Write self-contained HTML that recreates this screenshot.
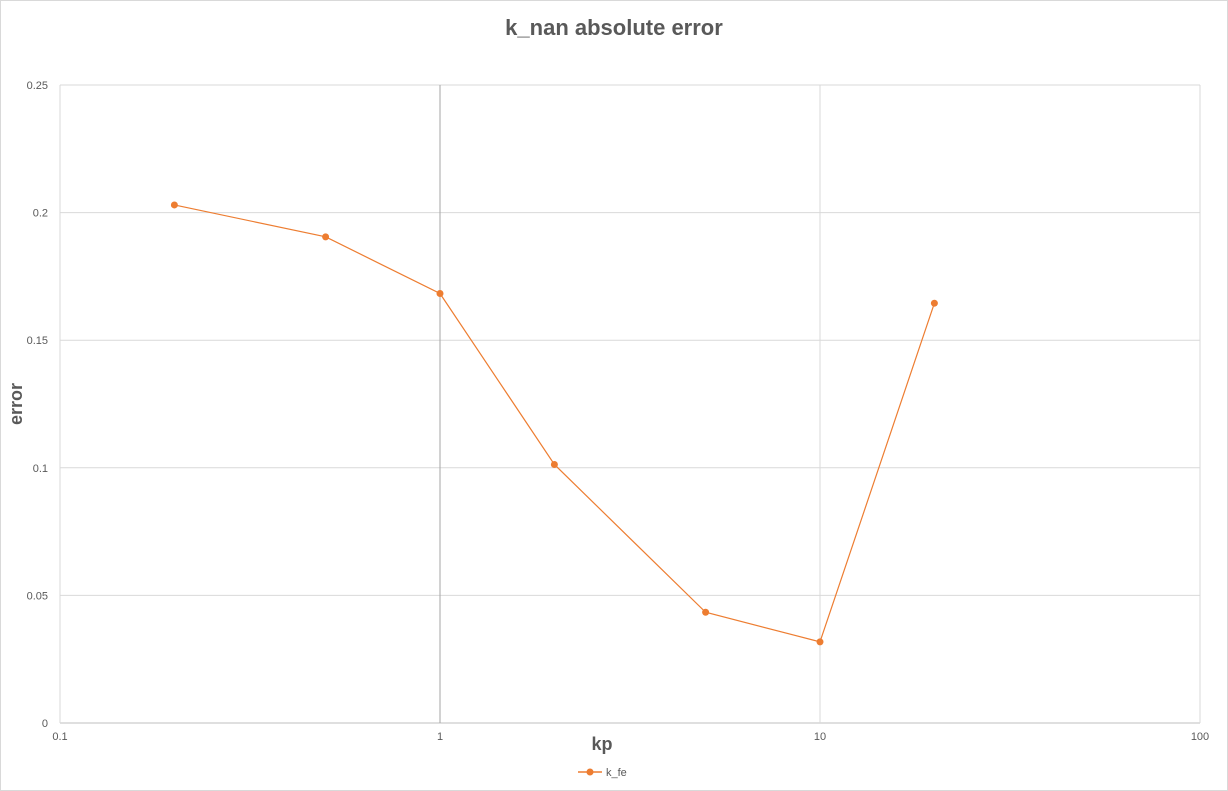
<!DOCTYPE html>
<html><head><meta charset="utf-8"><style>
body{margin:0;background:#fff;}
svg{display:block;font-family:"Liberation Sans",sans-serif;}
</style></head><body>
<svg id="c" width="1228" height="791">
<rect x="0.5" y="0.5" width="1227" height="790" fill="#fff" stroke="#d9d9d9"/>
<text x="614" y="35" text-anchor="middle" font-size="22" font-weight="bold" fill="#595959">k_nan absolute error</text>
<text x="22" y="404" text-anchor="middle" font-size="18" font-weight="bold" fill="#595959" transform="rotate(-90 22 404)">error</text>
<text x="602" y="750" text-anchor="middle" font-size="18" font-weight="bold" fill="#595959">kp</text>
<g id="grid"></g><g id="series"></g>
<g>
<line x1="578" y1="772" x2="602" y2="772" stroke="#ed7d31" stroke-width="1.5"/>
<circle cx="590" cy="772" r="3.5" fill="#ed7d31"/>
<text x="606" y="776" font-size="11" fill="#595959">k_fe</text>
</g>
</svg>
<script>
const xValues=[0.2,0.5,1,2,5,10,20];
const yValues=[0.203,0.1905,0.1683,0.1013,0.0434,0.0318,0.1645];
const yTicks=[0,0.05,0.1,0.15,0.2,0.25];
const yTickLabels=["0","0.05","0.1","0.15","0.2","0.25"];
const xTicks=[0.1,1,10,100];
const xTickLabels=["0.1","1","10","100"];
const NS="http://www.w3.org/2000/svg";
const L=60,R=1200,T=85,B=723;
function sx(v){return L+(Math.log10(v)+1)/3*(R-L);}
function sy(v){return B-v/0.25*(B-T);}
function mk(t,a,p){const e=document.createElementNS(NS,t);for(const k in a)e.setAttribute(k,a[k]);p.appendChild(e);return e;}
const g=document.getElementById('grid');
yTicks.forEach((v,i)=>{
 const ln=mk('line',{x1:L,x2:R,y1:sy(v),y2:sy(v),stroke:i==0?'#bfbfbf':'#d9d9d9'},g);
 
 
 const t=mk('text',{x:L-12,y:sy(v)+4,'text-anchor':'end','font-size':11,fill:'#595959'},g);
 t.textContent=yTickLabels[i];
 
 
});
xTicks.forEach((v,i)=>{
 const ln=mk('line',{x1:sx(v),x2:sx(v),y1:T,y2:B,stroke:(i==1)?'#a6a6a6':'#d9d9d9'},g);
 
 
 const t=mk('text',{x:sx(v),y:B+17,'text-anchor':'middle','font-size':11,fill:'#595959'},g);
 t.textContent=xTickLabels[i];
 
 
});
const s=document.getElementById('series');
const pl=mk('polyline',{points:xValues.map((x,i)=>sx(x)+','+sy(yValues[i])).join(' '),fill:'none',stroke:'#ed7d31','stroke-width':1.2},s);


xValues.forEach((x,i)=>{
 const c=mk('circle',{cx:sx(x),cy:sy(yValues[i]),r:3.5,fill:'#ed7d31'},s);
 
 
});
</script>
</body></html>
